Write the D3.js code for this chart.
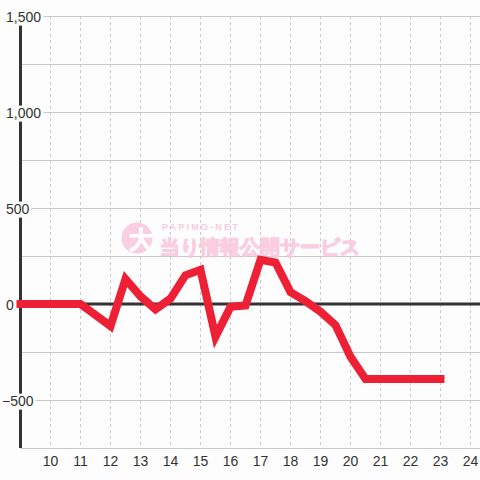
<!DOCTYPE html>
<html>
<head>
<meta charset="utf-8">
<script src="https://cdn.jsdelivr.net/npm/d3@7"></script>
<style>
    html, body { margin: 0; padding: 0; background: #fcfdfc; }
    #chart { width: 480px; height: 480px; }
    text { font-family: "Liberation Sans", Arial, sans-serif; }
</style>
</head>
<body>
<div id="chart"></div>
<script>
// hours (every 30 min) and the balance at each one
let hours = [9, 9.5, 10, 10.5, 11, 11.5, 12, 12.5, 13, 13.5, 14, 14.5, 15, 15.5, 16, 16.5,
    17, 17.5, 18, 18.5, 19, 19.5, 20, 20.5, 21, 21.5, 22, 22.5, 23];
let values = [0, 0, 0, 0, 0, -57, -115, 130, 40, -28, 28, 150, 178, -170, -15, -8,
    230, 216, 62, 15, -40, -110, -275, -390, -390, -390, -390, -390, -390];
let xTicks = [10, 11, 12, 13, 14, 15, 16, 17, 18, 19, 20, 21, 22, 23, 24];
let yTicks = [-500, 0, 500, 1000, 1500];
let yGrid = [-750, -500, -250, 0, 250, 500, 750, 1000, 1250, 1500];

let W = 480, H = 480;

let svg = d3.select("#chart")
    .append("svg")
    .attr("width", W)
    .attr("height", H);

svg.append("rect")
    .attr("width", W)
    .attr("height", H)
    .attr("fill", "#fcfdfc");

// scales
let x = d3.scaleLinear()
    .domain([9, 24])
    .range([20.5, 470.5]);

let y = d3.scaleLinear()
    .domain([-750, 1500])
    .range([448, 16]);

// horizontal grid
svg.append("g")
    .selectAll("line")
    .data(yGrid)
    .enter()
    .append("line")
    .attr("x1", x(9))
    .attr("x2", W)
    .attr("y1", function (d) { return Math.round(y(d)) + 0.5 })
    .attr("y2", function (d) { return Math.round(y(d)) + 0.5 })
    .attr("stroke", "#c9c9c9")
    .attr("stroke-width", 1);

// vertical dashed grid
svg.append("g")
    .selectAll("line")
    .data(xTicks)
    .enter()
    .append("line")
    .attr("x1", function (d) { return x(d) })
    .attr("x2", function (d) { return x(d) })
    .attr("y1", y(1500))
    .attr("y2", y(-750))
    .attr("stroke", "#c9c9c9")
    .attr("stroke-width", 1)
    .attr("stroke-dasharray", "3,3");

// left axis line
svg.append("line")
    .attr("x1", x(9))
    .attr("x2", x(9))
    .attr("y1", y(1500))
    .attr("y2", y(-750))
    .attr("stroke", "#333")
    .attr("stroke-width", 3);

// zero line
svg.append("line")
    .attr("x1", x(9))
    .attr("x2", W)
    .attr("y1", y(0))
    .attr("y2", y(0))
    .attr("stroke", "#333")
    .attr("stroke-width", 3);

// y labels with a background box
let fmt = d3.format(",");
let yLab = svg.append("g")
    .selectAll("g")
    .data(yTicks)
    .enter()
    .append("g");

yLab.append("text")
    .attr("x", function (d) { return d < 0 ? 2 : 6 })
    .attr("y", function (d) { return y(d) })
    .attr("dy", "0.4em")
    .attr("font-size", 14)
    .attr("fill", "#333")
    .text(function (d) { return fmt(d) });

yLab.each(function () {
    let t = d3.select(this).select("text");
    let b = t.node().getBBox();
    d3.select(this).insert("rect", "text")
        .attr("x", b.x - 1)
        .attr("y", b.y + 1)
        .attr("width", b.width + 3)
        .attr("height", b.height)
        .attr("fill", "#fcfdfc");
});

// x labels
svg.append("g")
    .selectAll("text")
    .data(xTicks)
    .enter()
    .append("text")
    .attr("x", function (d) { return x(d) })
    .attr("y", 466)
    .attr("text-anchor", "middle")
    .attr("font-size", 14)
    .attr("fill", "#333")
    .text(function (d) { return d });

// watermark
let wm = svg.append("g").attr("opacity", 0.85);
wm.append("circle")
    .attr("cx", 137)
    .attr("cy", 238)
    .attr("r", 15.5)
    .attr("fill", "#f9c6dc");
wm.append("text")
    .attr("x", 141)
    .attr("y", 248)
    .attr("text-anchor", "middle")
    .attr("font-size", 24)
    .attr("font-weight", "bold")
    .attr("font-family", "'Noto Sans CJK JP', sans-serif")
    .attr("fill", "#ffffff")
    .attr("stroke", "#ffffff")
    .attr("stroke-width", 1)
    .text("大");
wm.append("text")
    .attr("x", 162)
    .attr("y", 230)
    .attr("font-size", 9)
    .attr("font-weight", "bold")
    .attr("letter-spacing", "2.2px")
    .attr("font-family", "'DejaVu Sans Condensed', sans-serif")
    .attr("fill", "#f7c3da")
    .text("PAPIMO-NET");
wm.append("text")
    .attr("x", 160)
    .attr("y", 254)
    .attr("font-size", 20)
    .attr("font-weight", "bold")
    .attr("font-family", "'Noto Sans CJK JP', sans-serif")
    .attr("fill", "#f9c6dc")
    .attr("stroke", "#f9c6dc")
    .attr("stroke-width", 1.2)
    .attr("stroke-linejoin", "round")
    .text("当り情報公開サービス");

// the line
svg.append("path")
    .datum(hours.map(function (h, i) { return { h: h, v: values[i] } }))
    .attr("fill", "none")
    .attr("stroke", "#ee2036")
    .attr("stroke-width", 8)
    .attr("stroke-linecap", "square")
    .attr("stroke-linejoin", "miter")
    .attr("d", d3.line()
        .x(function (d) { return x(d.h) })
        .y(function (d) { return y(d.v) })
    );
</script>
</body>
</html>
